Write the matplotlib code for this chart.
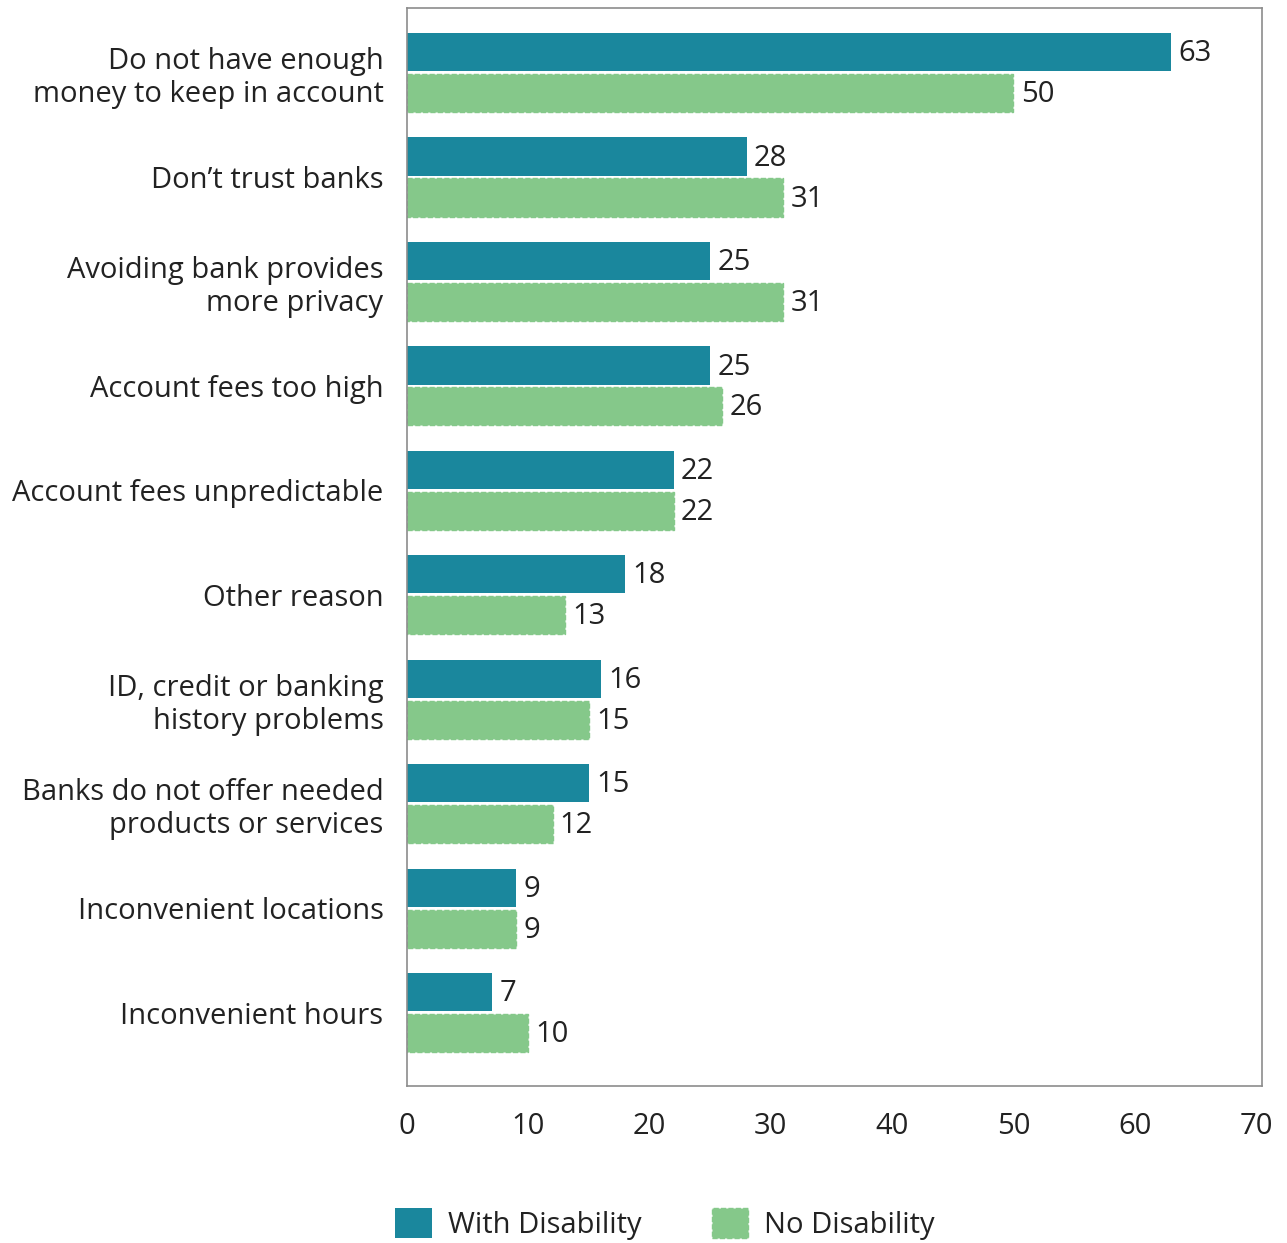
import matplotlib
matplotlib.use('Agg')
import matplotlib.pyplot as plt
import numpy as np

plt.rcParams['font.family'] = ['Open Sans', 'DejaVu Sans']

reasons = ['Do not have enough\nmoney to keep in account',
           'Don\u2019t trust banks',
           'Avoiding bank provides\nmore privacy',
           'Account fees too high',
           'Account fees unpredictable',
           'Other reason',
           'ID, credit or banking\nhistory problems',
           'Banks do not offer needed\nproducts or services',
           'Inconvenient locations',
           'Inconvenient hours']
with_disability = [63, 28, 25, 25, 22, 18, 16, 15, 9, 7]
no_disability = [50, 31, 31, 26, 22, 13, 15, 12, 9, 10]

blue = '#1a879d'
green = '#85c88a'
text_col = '#222222'
fs = 21

fig = plt.figure(figsize=(12.87, 12.43), dpi=100)
ax = fig.add_axes([407/1287, 1 - 1086/1243, 855/1287, 1078/1243])

y = np.arange(len(reasons))
h = 0.365
off = 0.196
b1 = ax.barh(y - off, with_disability, height=h, color=blue, label='With Disability')
b2 = ax.barh(y + off, no_disability, height=h, color=green, edgecolor=green,
             linestyle='--', linewidth=1, label='No Disability')

# value labels just right of each bar
for bars, vals in ((b1, with_disability), (b2, no_disability)):
    for bar, v in zip(bars, vals):
        ax.text(v + 0.6, bar.get_y() + bar.get_height() / 2 + 0.015, str(v),
                va='center', ha='left', fontsize=fs, color=text_col)

ax.set_xlim(0, 70.5)
ax.set_ylim(9.7, -0.617)
ax.set_xticks(range(0, 71, 10))
ax.set_yticks(y)
ax.set_yticklabels(reasons, fontsize=fs, color=text_col, linespacing=1.17)
ax.tick_params(axis='x', labelsize=fs, labelcolor=text_col, length=0, pad=19)
ax.tick_params(axis='y', length=0, pad=17)
for s in ax.spines.values():
    s.set_color('#8c8c8c')
    s.set_linewidth(1.2)

fig.legend(handles=[b1, b2], loc='center', bbox_to_anchor=(665/1287, 1 - 1224/1243),
           ncol=2, frameon=False, fontsize=fs, handlelength=1.25, handleheight=1.2,
           columnspacing=2.4, handletextpad=0.55, labelcolor=text_col)

fig.savefig('out.png', dpi=100)
